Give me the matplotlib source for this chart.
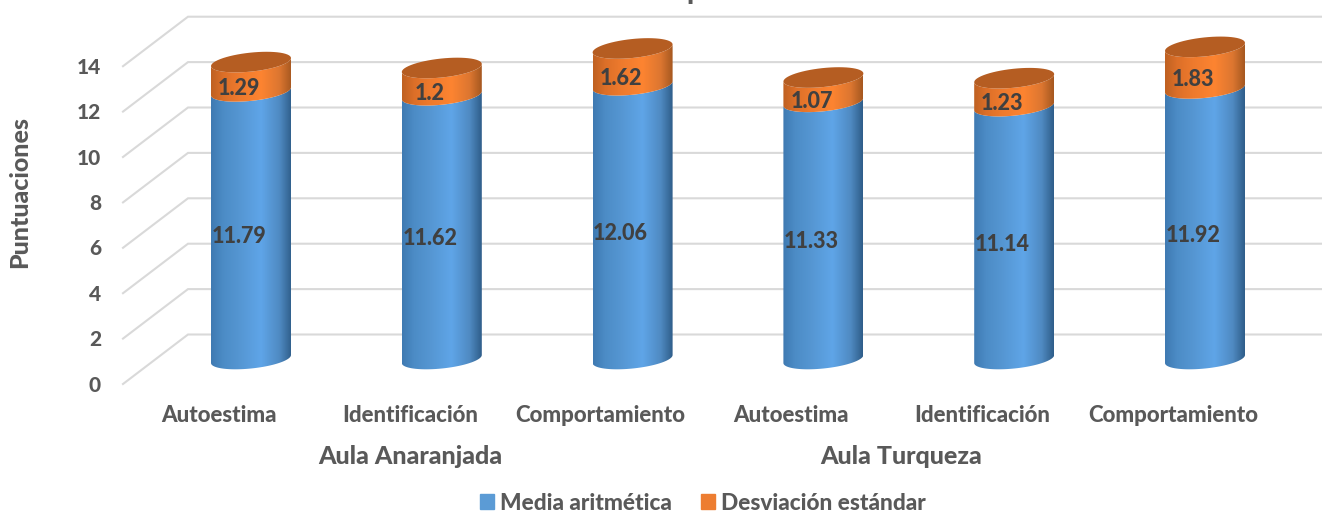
import numpy as np
import matplotlib
matplotlib.use('Agg')
import matplotlib.pyplot as plt
from matplotlib.colors import LinearSegmentedColormap
from matplotlib.patches import Patch, Polygon

plt.rcParams['font.family'] = ['Lato', 'DejaVu Sans']
plt.rcParams['font.weight'] = 900

categories = ['Autoestima', 'Identificación', 'Comportamiento',
              'Autoestima', 'Identificación', 'Comportamiento']
groups = ['Aula Anaranjada', 'Aula Turqueza']
media = [11.79, 11.62, 12.06, 11.33, 11.14, 11.92]
desviacion = [1.29, 1.2, 1.62, 1.07, 1.23, 1.83]
media_labels = ['11.79', '11.62', '12.06', '11.33', '11.14', '11.92']
desviacion_labels = ['1.29', '1.2', '1.62', '1.07', '1.23', '1.83']
y_ticks = [0, 2, 4, 6, 8, 10, 12, 14]

W, H = 1322, 511
PX_X = 190.8   # pixels per category
PX_Y = 22.7    # pixels per score unit
X0, Y0 = 251, 359  # pixel of first cylinder, base centre

blue_cmap = LinearSegmentedColormap.from_list(
    'blue', [(0, '#3f7ab2'), (0.15, '#4c8cc6'), (0.35, '#5596d2'), (0.62, '#5fa5e8'), (0.85, '#4f8ac2'), (1, '#2f5e8a')])
orange_cmap = LinearSegmentedColormap.from_list(
    'orange', [(0, '#bf6122'), (0.15, '#dc6f28'), (0.35, '#ee7a2d'), (0.62, '#fd8431'), (0.85, '#dc7630'), (1, '#a65820')])


def ellipse_front(i, v, start, stop, n=60):
    # tilted ellipse around cylinder i at score v, in data units
    t = np.linspace(start, stop, n)
    x = i + (40 / PX_X) * np.cos(t)
    y = v + (9.5 / PX_Y) * np.sin(t) + (4 / PX_Y) * np.cos(t)
    return np.column_stack([x, y])


def draw_segment(ax, i, v0, v1, cmap):
    lower = ellipse_front(i, v0, np.pi, 2 * np.pi)
    upper = ellipse_front(i, v1, 2 * np.pi, np.pi)
    path = Polygon(np.vstack([lower, upper]), closed=True, fc='none', ec='none', transform=ax.transData)
    ax.add_patch(path)
    grad = np.linspace(0, 1, 200).reshape(1, -1)
    im = ax.imshow(grad, cmap=cmap, aspect='auto', zorder=3,
                   extent=[i - 40 / PX_X, i + 40 / PX_X, v0 - 1, v1 + 1])
    im.set_clip_path(path)


fig = plt.figure(figsize=(W / 100, H / 100), dpi=100, facecolor='white')
ax = fig.add_axes([0, 0, 1, 1])
xlim = (-X0 / PX_X, (W - X0) / PX_X)
ylim = ((Y0 - H) / PX_Y, Y0 / PX_Y)

# floor and back wall grid
for v in y_ticks:
    xs = [(123 - X0) / PX_X, (188 - X0) / PX_X, (W - X0) / PX_X]
    ys = [v + (Y0 - 384) / PX_Y, v + (Y0 - 334.5) / PX_Y, v + (Y0 - 334.5) / PX_Y]
    ax.plot(xs, ys, color='#d9d9d9', lw=1.5, zorder=1, solid_joinstyle='miter')
    ax.text(101 / PX_X + xlim[0], v + (Y0 - 384 - 1) / PX_Y, str(v), ha='right', va='center',
            fontsize=15, color='#595959')

for i in range(len(media)):
    top = media[i] + desviacion[i]
    draw_segment(ax, i, 0, media[i], blue_cmap)
    draw_segment(ax, i, media[i], top, orange_cmap)
    ax.add_patch(Polygon(ellipse_front(i, top, 0, 2 * np.pi), closed=True, fc='#b55d22', ec='none', zorder=4))
    ax.annotate(media_labels[i], (i, media[i] / 2), xytext=(-12 * 0.72, -11.5 * 0.72),
                textcoords='offset points', ha='center', va='center', fontsize=15.5, color='#404040', zorder=5)
    ax.annotate(desviacion_labels[i], (i, media[i] + desviacion[i] / 2), xytext=(-12 * 0.72, -11.5 * 0.72),
                textcoords='offset points', ha='center', va='center', fontsize=15.5, color='#404040', zorder=5)
    ax.annotate(categories[i], (i, 0), xytext=(-32 * 0.72, -(415 - Y0) * 0.72),
                textcoords='offset points', ha='center', va='center', fontsize=16, color='#595959')

# group labels are not centred the same way under their categories
group_pos = [1, 4]
group_dx = [-32, -113]
for g, name in enumerate(groups):
    ax.annotate(name, (group_pos[g], 0), xytext=(group_dx[g] * 0.72, -(456 - Y0) * 0.72),
                textcoords='offset points', ha='center', va='center', fontsize=18, color='#595959')

# title is cut off by the picture edge, only this descender shows
fig.text(694 / W, 1 + 1 / H, 'p', ha='center', va='baseline', fontsize=20, color='#595959')
fig.text(20 / W, 1 - 192 / H, 'Puntuaciones', rotation=90, ha='center', va='center',
         fontsize=18, color='#595959')

handles = [Patch(color='#5b9bd5', label='Media aritmética'), Patch(color='#ed7d31', label='Desviación estándar')]
ax.legend(handles=handles, loc='center', bbox_to_anchor=(703 / W, 1 - 503 / H), bbox_transform=fig.transFigure,
          ncol=2, frameon=False, fontsize=16.3, labelcolor='#595959', handlelength=0.62, handleheight=0.62,
          handletextpad=0.25, columnspacing=1.3, borderpad=0)

ax.set_xlim(xlim)
ax.set_ylim(ylim)
ax.axis('off')
fig.savefig('out.png', dpi=100, facecolor='white')
